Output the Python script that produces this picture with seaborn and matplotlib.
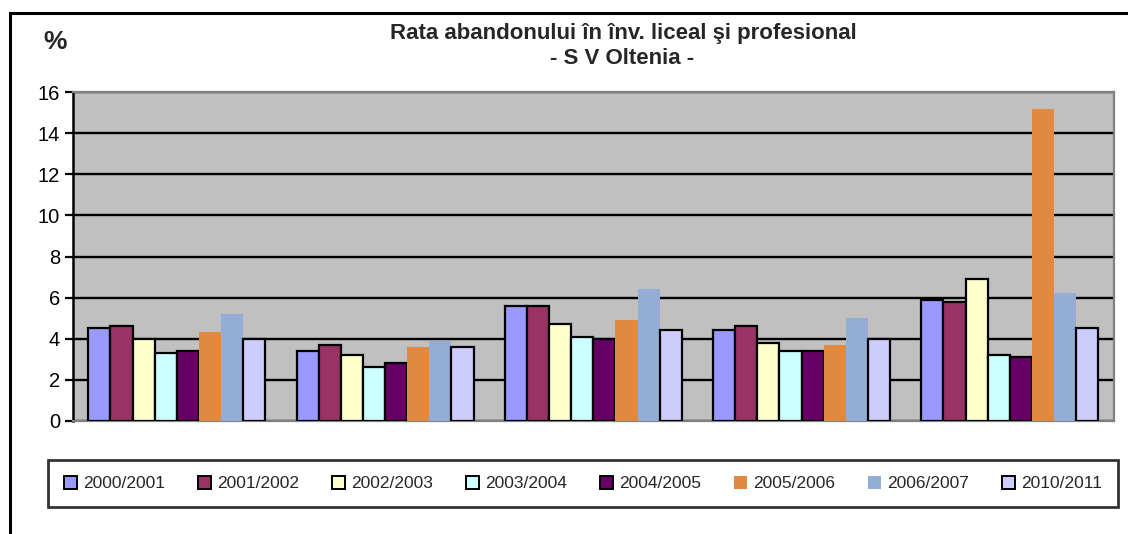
import matplotlib
matplotlib.use("Agg")
import matplotlib.pyplot as plt
import seaborn as sns
import pandas as pd
from matplotlib.patches import Rectangle

# ---- data ----
categories = ["Grupa 1", "Grupa 2", "Grupa 3", "Grupa 4", "Grupa 5"]
series = ["2000/2001", "2001/2002", "2002/2003", "2003/2004",
          "2004/2005", "2005/2006", "2006/2007", "2010/2011"]
v_2000_2001 = [4.5, 3.4, 5.6, 4.4, 5.9]
v_2001_2002 = [4.6, 3.7, 5.6, 4.6, 5.8]
v_2002_2003 = [4.0, 3.2, 4.7, 3.8, 6.9]
v_2003_2004 = [3.3, 2.6, 4.1, 3.4, 3.2]
v_2004_2005 = [3.4, 2.8, 4.0, 3.4, 3.1]
v_2005_2006 = [4.3, 3.6, 4.9, 3.7, 15.2]
v_2006_2007 = [5.2, 3.9, 6.4, 5.0, 6.2]
v_2010_2011 = [4.0, 3.6, 4.4, 4.0, 4.5]
values = [v_2000_2001, v_2001_2002, v_2002_2003, v_2003_2004,
          v_2004_2005, v_2005_2006, v_2006_2007, v_2010_2011]
yticks = [0, 2, 4, 6, 8, 10, 12, 14, 16]

colors = ["#9999FF", "#993366", "#FFFFCC", "#CCFFFF",
          "#660066", "#DF8A40", "#93ADD6", "#CCCCFF"]
edged = [True, True, True, True, True, False, False, True]

rows = []
for s, vals in zip(series, values):
    for c, v in zip(categories, vals):
        rows.append({"cat": c, "series": s, "val": v})
df = pd.DataFrame(rows)

sns.set_theme(style="white")
plt.rcParams["font.family"] = ["Liberation Sans", "DejaVu Sans"]

W, H = 1128, 534
fig = plt.figure(figsize=(W / 100, H / 100), dpi=100)
fig.patch.set_facecolor("white")

# outer frame
fig.patches.append(Rectangle((10 / W, 1 - 540 / H), (1140 - 10) / W, (540 - 13) / H,
                             transform=fig.transFigure, fill=False,
                             edgecolor="black", linewidth=2.2, zorder=0))

ax = fig.add_axes([72.7 / W, 1 - 420.7 / H, (1114 - 72.7) / W, (420.7 - 92.3) / H])
ax.set_facecolor("#C0C0C0")

sns.barplot(data=df, x="cat", y="val", hue="series", hue_order=series,
            order=categories, palette=dict(zip(series, colors)),
            saturation=1, width=0.85, gap=0, legend=False, ax=ax, zorder=3)

for cont, e in zip(ax.containers, edged):
    for p in cont.patches:
        if e:
            p.set_edgecolor("black")
            p.set_linewidth(1.6)
        else:
            p.set_edgecolor("none")
            p.set_linewidth(0)

ax.set_ylim(0, 16)
ax.set_yticks(yticks)
ax.set_yticklabels([str(t) for t in yticks], fontsize=14.5)
ax.yaxis.grid(True, color="black", linewidth=1.7, zorder=1)
ax.set_axisbelow(True)
ax.set_xticks([])
ax.set_xlabel("")
ax.set_ylabel("")
ax.tick_params(axis="y", which="both", left=True, length=6, width=1.6,
               color="black", pad=3, labelcolor="black")

ax.spines["left"].set_color("black")
ax.spines["left"].set_linewidth(1.8)
for sp in ["top", "right", "bottom"]:
    ax.spines[sp].set_color("#808080")
    ax.spines[sp].set_linewidth(1.6)

# titles
fig.text(623 / W, 1 - 33 / H, "Rata abandonului în înv. liceal şi profesional",
         ha="center", va="center", fontsize=16, fontweight="bold")
fig.text(622 / W, 1 - 58 / H, "- S V Oltenia -",
         ha="center", va="center", fontsize=16, fontweight="bold")
fig.text(55 / W, 1 - 42 / H, "%", ha="center", va="center",
         fontsize=19, fontweight="bold")

# legend
handles = []
for c, e in zip(colors, edged):
    handles.append(Rectangle((0, 0), 1, 1, facecolor=c,
                             edgecolor="black" if e else c,
                             linewidth=1.4 if e else 0))
leg = fig.legend(handles, series, ncol=8, mode="expand",
                 loc="center",
                 bbox_to_anchor=(48 / W, 1 - 507 / H, (1118 - 48) / W, (507 - 460) / H),
                 bbox_transform=fig.transFigure,
                 fontsize=12.5, handlelength=0.75, handleheight=0.75,
                 handletextpad=0.35, borderpad=0.9, columnspacing=1.0,
                 borderaxespad=0.0,
                 frameon=True, fancybox=False)
fr = leg.get_frame()
fr.set_edgecolor("black")
fr.set_linewidth(2.0)
fr.set_facecolor("white")

fig.savefig("out.png", dpi=100)
